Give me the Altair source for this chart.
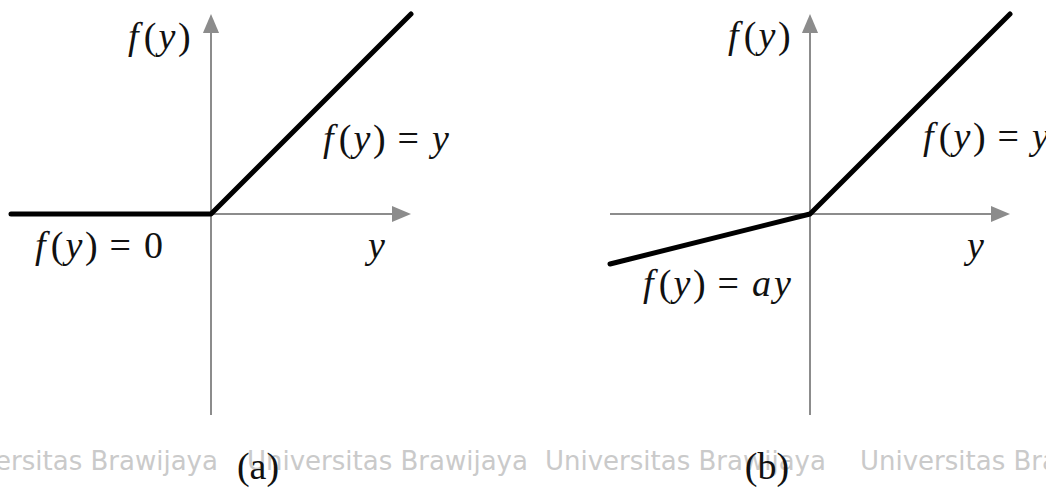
import altair as alt
import pandas as pd

# ---- function samples (knots of the piecewise-linear activations) ----
x_knots = [-1.0, 0.0, 1.0]
relu_vals = [0.0, 0.0, 1.0]          # f(y) = max(0, y)
leaky_vals = [-0.25, 0.0, 1.0]       # f(y) = a*y for y < 0, a = 0.25

# ---- label anchors in each panel's own units ----
label_panel = ["a", "a", "a", "a", "b", "b", "b", "b"]
label_text = ["f(y)", "f(y) = y", "f(y) = 0", "y", "f(y)", "f(y) = y", "f(y) = ay", "y"]
label_x = [-0.415, 0.56, -0.88, 0.785, -0.41, 0.565, -0.835, 0.785]
label_y = [0.825, 0.315, -0.22, -0.22, 0.83, 0.325, -0.41, -0.22]

caption_panel = ["a", "b"]
caption_text = ["(a)", "(b)"]
caption_x = [0.235, -0.215]
caption_y = [-1.325, -1.325]

watermark_text = "Universitas Brawijaya"
watermark_px = [-63, 247, 545, 860]

# ---- layout constants ----
W, H = 1046, 488
PX = 200.0                      # pixels per unit in both panels
Y_DOM = [-1.37, 1.07]
X_DOM = {"a": [-1.055, 4.175], "b": [-4.05, 1.18]}
GRAY = "#8c8c8c"
INK = "#111111"
SERIF = "Liberation Serif"
FS = 38
STRETCH = 1.16
ADV = {"f": 0.36, "y": 0.444, "a": 0.5, "(": 0.333, ")": 0.333,
       "=": 0.564, "0": 0.5, " ": 0.22}
ITALIC = set("fya")

HEAD_LEN = 19.0                 # arrowhead length in px
AXIS_TIP = 1.0

y_scale = alt.Scale(domain=Y_DOM, nice=False, zero=False)


def xenc(panel, field="x"):
    return alt.X(f"{field}:Q", scale=alt.Scale(domain=X_DOM[panel], nice=False, zero=False), axis=None)


def yenc(field="y"):
    return alt.Y(f"{field}:Q", scale=y_scale, axis=None)


def glyphs(panel):
    rows = []
    for p, t, x0, y0 in zip(label_panel, label_text, label_x, label_y):
        if p != panel:
            continue
        cursor = 0.0
        for ch in t:
            if ch != " ":
                rows.append({"x": x0 + cursor / PX, "y": y0, "ch": ch,
                             "italic": ch in ITALIC})
            cursor += ADV[ch] * FS * STRETCH
    return pd.DataFrame(rows)


def panel_layers(panel, vals):
    head = HEAD_LEN / PX
    axes = pd.DataFrame({
        "x": [-1.0, 0.0], "x2": [AXIS_TIP - head * 0.8, 0.0],
        "y": [0.0, -1.005], "y2": [0.0, AXIS_TIP - head * 0.8],
    })
    heads = pd.DataFrame({
        "x": [AXIS_TIP - head / 2, 0.0],
        "y": [0.0, AXIS_TIP - head / 2],
        "angle": [0, 270],
    })
    curve = pd.DataFrame({"x": x_knots, "y": vals})
    g = glyphs(panel)
    caps = pd.DataFrame({
        "x": [cx for p, cx in zip(caption_panel, caption_x) if p == panel],
        "y": [cy for p, cy in zip(caption_panel, caption_y) if p == panel],
        "t": [ct for p, ct in zip(caption_panel, caption_text) if p == panel],
    })

    axis_lines = alt.Chart(axes).mark_rule(color=GRAY, strokeWidth=2).encode(
        x=xenc(panel), x2=alt.X2("x2:Q"), y=yenc(), y2=alt.Y2("y2:Q"))
    arrow_heads = alt.Chart(heads).mark_point(
        shape="M-1,-0.85L1,0L-1,0.85Z", filled=True, size=HEAD_LEN ** 2,
        color=GRAY, opacity=1, strokeWidth=0,
    ).encode(x=xenc(panel), y=yenc(), angle=alt.Angle("angle:Q", scale=None))
    line = alt.Chart(curve).mark_line(
        color="black", strokeWidth=5, strokeCap="round", strokeJoin="round"
    ).encode(x=xenc(panel), y=yenc(), order="x:Q")
    ital = alt.Chart(g[g["italic"]]).mark_text(
        font=SERIF, fontSize=FS, fontStyle="italic", align="left",
        baseline="alphabetic", color=INK,
    ).encode(x=xenc(panel), y=yenc(), text="ch:N")
    upright = alt.Chart(g[~g["italic"]]).mark_text(
        font=SERIF, fontSize=FS, align="left", baseline="alphabetic", color=INK,
    ).encode(x=xenc(panel), y=yenc(), text="ch:N")
    caption = alt.Chart(caps).mark_text(
        font=SERIF, fontSize=38, align="center", baseline="alphabetic", color=INK,
    ).encode(x=xenc(panel), y=yenc(), text="t:N")
    return [axis_lines, arrow_heads, line, ital, upright, caption]


watermark = alt.Chart(pd.DataFrame({"px": watermark_px, "t": watermark_text})).mark_text(
    font="DejaVu Sans", fontSize=26, align="left", baseline="alphabetic", color="#cacaca",
).encode(x=alt.X("px:Q", scale=None), y=alt.value(470), text="t:N")

chart = alt.layer(
    watermark,
    *panel_layers("a", relu_vals),
    *panel_layers("b", leaky_vals),
).resolve_scale(x="independent").properties(
    width=W, height=H, padding=0,
    autosize=alt.AutoSizeParams(type="none"),
    background="white",
).configure_view(stroke=None)

chart.save("out.html", embed_options={"renderer": "svg", "actions": False})
